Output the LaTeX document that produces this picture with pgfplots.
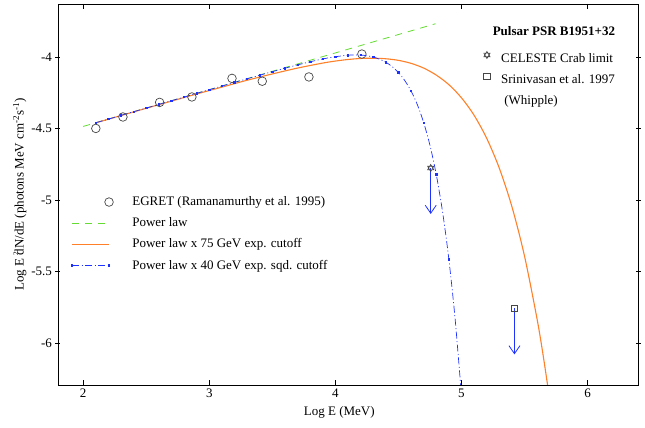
\documentclass[border=0pt]{standalone}
\usepackage{fontspec}
\setmainfont{Liberation Serif}
\usepackage{pgfplots}
\pgfplotsset{compat=1.18}
\usetikzlibrary{arrows.meta}

\definecolor{plgreen}{RGB}{100,220,50}
\definecolor{plorange}{RGB}{255,128,40}
\definecolor{plblue}{RGB}{30,50,255}
\definecolor{symgray}{RGB}{70,70,70}

% six-pointed star (two triangles)
\pgfdeclareplotmark{hexagram}{%
  \pgfpathmoveto{\pgfqpointpolar{90}{\pgfplotmarksize}}%
  \pgfpathlineto{\pgfqpointpolar{210}{\pgfplotmarksize}}%
  \pgfpathlineto{\pgfqpointpolar{330}{\pgfplotmarksize}}%
  \pgfpathclose
  \pgfpathmoveto{\pgfqpointpolar{270}{\pgfplotmarksize}}%
  \pgfpathlineto{\pgfqpointpolar{30}{\pgfplotmarksize}}%
  \pgfpathlineto{\pgfqpointpolar{150}{\pgfplotmarksize}}%
  \pgfpathclose
  \pgfusepathqstroke}

\pgfplotsset{
  frame/.style={
    scale only axis, width=580pt, height=381pt,
    xmin=1.8, xmax=6.4, ymin=-6.294, ymax=-3.63,
  },
  linelegend/.style={legend image code/.code={\draw[##1] plot coordinates {(0cm,0cm) (1.3cm,0cm)};}},
  endmark/.style={legend image code/.code={\draw[##1] plot[only marks] coordinates {(1.3cm,0cm)};}},
  symlegend/.style={legend image code/.code={\draw[##1] plot[only marks] coordinates {(0cm,0.12cm)};}},
}

\begin{document}
\begin{tikzpicture}[font=\fontsize{13}{15}\selectfont]
\useasboundingbox (-58pt,-43pt) rectangle (587pt,385pt);

\begin{axis}[
    frame,
    axis line style={line width=0.8pt},
    tick style={black, line width=0.7pt},
    major tick length=5pt,
    xtick={2,3,4,5,6},
    ytick={-6,-5.5,-5,-4.5,-4},
    ytick align=center,
    /pgf/number format/assume math mode=true,
    xlabel={Log E (MeV)},
    ylabel={Log E \rlap{\raisebox{0.9ex}{\scriptsize 2}}dN/dE (photons MeV cm\textsuperscript{-2}s\textsuperscript{-1})},
    every axis x label/.style={at={(axis description cs:0.485,-0.071)}, anchor=center},
    every axis y label/.style={at={(axis description cs:-0.066,0.5)}, rotate=90, anchor=center},
    legend style={at={(axis description cs:0.0175,0.505)}, anchor=north west,
        draw=none, fill=none, row sep=6.5pt,
        /tikz/every odd column/.append style={column sep=17pt}},
    legend cell align=left,
    linelegend,
]

% EGRET points
\addplot[only marks, mark=o, mark size=4.3pt, draw=symgray, line width=0.7pt, endmark]
coordinates {
(2.10,-4.50) (2.315,-4.42) (2.606,-4.318) (2.862,-4.28)
(3.18,-4.15) (3.42,-4.17) (3.79,-4.14) (4.21,-3.98)
};
\addlegendentry{EGRET (Ramanamurthy et al. 1995)}

% power law
\addplot[plgreen, line width=0.8pt, dash pattern=on 7pt off 6pt]
coordinates {(2.0,-4.486) (4.794,-3.768)};
\addlegendentry{Power law}

% power law x 75 GeV exp. cutoff
\addplot[plorange, line width=1.1pt, smooth]
coordinates {
(2.1,-4.461) (2.3,-4.410) (2.5,-4.359) (2.7,-4.309) (2.9,-4.259)
(3.1,-4.211) (3.3,-4.163) (3.5,-4.119) (3.7,-4.078) (3.9,-4.043)
(4.0,-4.029) (4.1,-4.018) (4.2,-4.011) (4.3,-4.009) (4.4,-4.013)
(4.5,-4.024) (4.6,-4.045) (4.7,-4.078) (4.8,-4.127) (4.9,-4.194)
(5.0,-4.286) (5.1,-4.408) (5.2,-4.569) (5.3,-4.778) (5.4,-5.047)
(5.5,-5.393) (5.6,-5.835) (5.65,-6.100) (5.7,-6.398)
};
\addlegendentry{Power law x 75 GeV exp. cutoff}

% power law x 40 GeV exp. squared cutoff
\addplot[plblue, line width=0.7pt, smooth, dash pattern=on 7pt off 2.5pt on 1pt off 2.5pt,
    mark=square*, mark size=0.7pt, mark options={solid},
    mark indices={1,2,3,4,5,6,7,8,9,10,11,12,13,14,15,16,17,18,19,20,21,22,24,26,28,30,32,34,36}]
coordinates {
(2.1,-4.460) (2.2,-4.435) (2.3,-4.409) (2.4,-4.383) (2.5,-4.358)
(2.6,-4.332) (2.7,-4.306) (2.8,-4.281) (2.9,-4.255) (3.0,-4.229)
(3.1,-4.204) (3.2,-4.178) (3.3,-4.153) (3.4,-4.128) (3.5,-4.103)
(3.6,-4.079) (3.7,-4.056) (3.8,-4.034) (3.9,-4.014) (4.0,-3.999)
(4.1,-3.988) (4.2,-3.987) (4.25,-3.992) (4.3,-4.001) (4.35,-4.016)
(4.4,-4.037) (4.45,-4.068) (4.5,-4.109) (4.55,-4.165) (4.6,-4.238)
(4.65,-4.334) (4.7,-4.459) (4.75,-4.618) (4.8,-4.822) (4.85,-5.083)
(4.9,-5.415) (4.95,-5.836) (5.0,-6.368)
};
\addlegendentry{Power law x 40 GeV exp. sqd. cutoff}

\node[font=\fontsize{13}{15}\selectfont\bfseries] at (axis description cs:0.855,0.929) {Pulsar PSR B1951+32};
\end{axis}

\begin{axis}[
    frame,
    hide axis,
    legend style={at={(axis description cs:0.7285,0.882)}, anchor=north west,
        draw=none, fill=none, row sep=6.5pt,
        /tikz/every odd column/.append style={column sep=9pt}},
    legend cell align=left,
    symlegend,
]
% upper limits
\addplot[plblue, line width=0.8pt, -{Straight Barb[length=8pt,width=11pt]}, forget plot]
coordinates {(4.756,-4.777) (4.756,-5.098)};
\addplot[plblue, line width=0.8pt, -{Straight Barb[length=8pt,width=11pt]}, forget plot]
coordinates {(5.42,-5.758) (5.42,-6.08)};

\addplot[only marks, mark=hexagram, mark size=3.6pt, draw=symgray, line width=0.6pt]
coordinates {(4.756,-4.777)};
\addlegendentry{CELESTE Crab limit}
\addplot[only marks, mark=square, mark size=3.2pt, draw=symgray, line width=0.6pt]
coordinates {(5.42,-5.758)};
\addlegendentry{Srinivasan et al. 1997}
\addlegendimage{empty legend}
\addlegendentry{\ (Whipple)}
\end{axis}
\end{tikzpicture}
\end{document}
